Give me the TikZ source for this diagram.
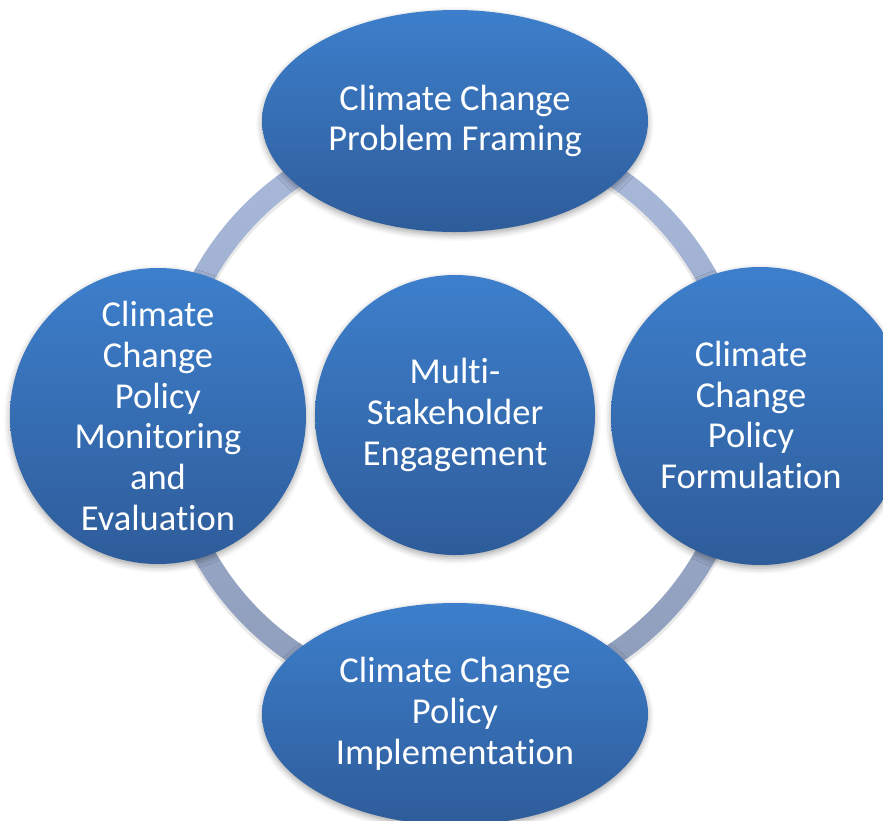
\documentclass[tikz,border=0pt]{standalone}
\usepackage{fontspec}
\setmainfont{Carlito}[Ligatures={NoCommon,NoContextual}]
\usetikzlibrary{shapes.geometric,shadows.blur,calc}

\definecolor{bubbletop}{RGB}{61,127,204}
\definecolor{bubblebot}{RGB}{46,92,154}
\definecolor{ringtop}{RGB}{170,186,219}
\definecolor{ringbot}{RGB}{140,156,185}

\tikzset{
  bubble/.style={
    draw=none, inner sep=0pt, align=center, text=white,
    font=\fontsize{36.5}{40.8}\selectfont,
    top color=bubbletop, bottom color=bubblebot,
    blur shadow={shadow xshift=0pt, shadow yshift=-3pt,
                 shadow blur radius=6pt, shadow opacity=35}},
  roundbubble/.style={bubble, circle, minimum size=#1},
  ovalbubble/.style={bubble, ellipse, minimum width=386pt, minimum height=222pt},
  caption/.style={inner sep=0pt, align=center, text=white,
    font=\fontsize{36.5}{40.8}\selectfont},
}

\begin{document}
\begin{tikzpicture}[x=1pt,y=-1pt]
  \useasboundingbox (0,0) rectangle (883,820);
  \clip (0,0) rectangle (883,820);
  \coordinate (hub) at (455,415);

  % connecting ring behind the stages
  \fill[black!25, opacity=0.35, even odd rule]
    ($(hub)+(0,3)$) circle (299pt) ($(hub)+(0,3)$) circle (275pt);
  \shade[top color=ringtop, bottom color=ringbot, even odd rule]
    (hub) circle (298pt) (hub) circle (276pt);

  % stages of the cycle
  \node[ovalbubble] (framing) at (455,121)
    {Climate Change\\Problem Framing};
  \node[roundbubble=298pt] (formulation) at (760,416) {};
  \node[caption] (formulationtext) at ($(formulation.center)+(-9,-1)$)
    {Climate\\Change\\Policy\\Formulation};
  \node[ovalbubble] (implementation) at (455,714)
    {Climate Change\\Policy\\Implementation};
  \node[roundbubble=296pt] (monitoring) at (158,416)
    {Climate\\Change\\Policy\\Monitoring\\and\\Evaluation};

  % central theme
  \node[roundbubble=280pt] (engagement) at (hub)
    {Multi-\\Stakeholder\\Engagement};
\end{tikzpicture}
\end{document}
